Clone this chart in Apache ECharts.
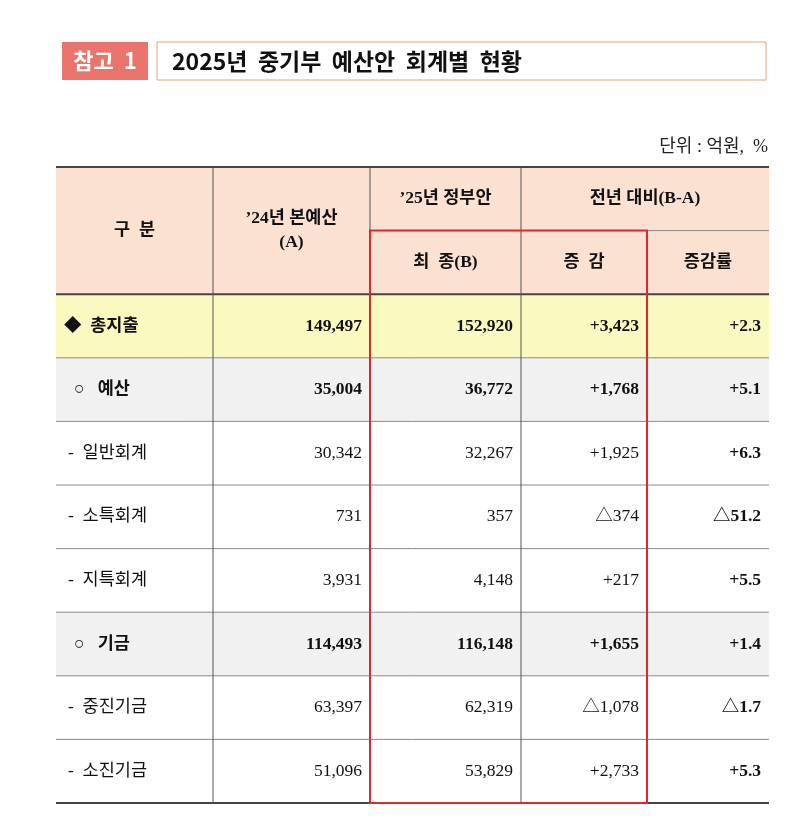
<!DOCTYPE html>
<html>
<head>
<meta charset="utf-8">
<script src="https://cdn.jsdelivr.net/npm/echarts@6/dist/echarts.min.js"></script>
<style>html,body{margin:0;background:#fff;}#main{width:800px;height:831px;}</style>
</head>
<body>
<div id="main"></div>
<script>
var titleTag = '참고  1';
var titleText = '2025년  중기부  예산안  회계별  현황';
var unitText = '단위 : 억원,  %';

var headerCells = [
    // [col, row, colSpan, rowSpan, text]
    [0, 0, 1, 2, '구  분'],
    [1, 0, 1, 2, '\u201924년 본예산\n(A)'],
    [2, 0, 1, 1, '\u201925년 정부안'],
    [3, 0, 2, 1, '전년 대비(B-A)'],
    [2, 1, 1, 1, '최  종(B)'],
    [3, 1, 1, 1, '증  감'],
    [4, 1, 1, 1, '증감률']
];

var rowLabels = ['◆  총지출', '○   예산', '-  일반회계', '-  소특회계', '-  지특회계', '○   기금', '-  중진기금', '-  소진기금'];
var budget24 = ['149,497', '35,004', '30,342', '731', '3,931', '114,493', '63,397', '51,096'];
var budget25 = ['152,920', '36,772', '32,267', '357', '4,148', '116,148', '62,319', '53,829'];
var diffValues = ['+3,423', '+1,768', '+1,925', '△374', '+217', '+1,655', '△1,078', '+2,733'];
var diffRates = ['+2.3', '+5.1', '+6.3', '△51.2', '+5.5', '+1.4', '△1.7', '+5.3'];
var rowKinds = ['total', 'group', 'item', 'item', 'item', 'group', 'item', 'item'];

var colEdges = [0, 157, 314, 465, 591, 713];
var fills = { header: '#fbe1d2', total: '#fafac0', group: '#f1f1f1', item: '#ffffff' };
var serif = '"Liberation Serif", "Noto Sans CJK KR", serif';

var cells = [];
headerCells.forEach(function (h) {
    cells.push({ value: [h[0], h[1], h[2], h[3]], text: h[4], kind: 'header', align: 'center', bold: true });
});
rowLabels.forEach(function (label, i) {
    var r = i + 2, kind = rowKinds[i], strong = kind !== 'item';
    var cols = [label, budget24[i], budget25[i], diffValues[i], diffRates[i]];
    cols.forEach(function (t, c) {
        cells.push({ value: [c, r, 1, 1], text: t, kind: kind,
            align: c === 0 ? 'left' : 'right', bold: strong || c === 4,
            indent: c === 0 ? (kind === 'total' ? 8 : (kind === 'group' ? 18 : 12)) : 0 });
    });
});

// border segments in table units: [x0, y0, x1, y1, style]
var borders = [[0, 0, 713, 0, 'thick'], [0, 2, 713, 2, 'thick'], [0, 10, 713, 10, 'thick'], [314, 1, 713, 1, 'thin']];
for (var r = 3; r < 10; r++) borders.push([0, r, 713, r, 'thin']);
[1, 2, 3].forEach(function (c) { borders.push([colEdges[c], 0, colEdges[c], 10, 'vline']); });
borders.push([colEdges[4], 1, colEdges[4], 10, 'vline']);
var highlight = [[colEdges[2], 1, colEdges[4], 10]];

var myChart = echarts.init(document.getElementById('main'));

function cellRender(params, api) {
    var cell = cells[params.dataIndex];
    var v = cell.value;
    var p0 = api.coord([colEdges[v[0]], v[1]]);
    var p1 = api.coord([colEdges[v[0] + v[2]], v[1] + v[3]]);
    var x = p0[0], y = p0[1], w = p1[0] - p0[0], h = p1[1] - p0[1];
    var tx = cell.align === 'center' ? x + w / 2 : (cell.align === 'left' ? x + cell.indent : x + w - 8);
    return {
        type: 'group',
        children: [
            { type: 'rect', shape: { x: x, y: y, width: w, height: h }, style: { fill: fills[cell.kind] } },
            { type: 'text', style: { x: tx, y: y + h / 2, text: cell.text, align: cell.align, verticalAlign: 'middle',
                font: (cell.bold ? 'bold ' : '') + '17.5px ' + serif, fill: '#111', lineHeight: 24 } }
        ]
    };
}

function borderRender(params, api) {
    var b = borders[params.dataIndex];
    var p0 = api.coord([b[0], b[1]]), p1 = api.coord([b[2], b[3]]);
    var style = b[4] === 'thick' ? { stroke: '#444', lineWidth: 2 } :
        (b[4] === 'vline' ? { stroke: '#555', lineWidth: 1 } : { stroke: '#8a8a8a', lineWidth: 1 });
    return { type: 'line', shape: { x1: p0[0], y1: p0[1], x2: p1[0], y2: p1[1] }, style: style };
}

function highlightRender(params, api) {
    var b = highlight[params.dataIndex];
    var p0 = api.coord([b[0], b[1]]), p1 = api.coord([b[2], b[3]]);
    return { type: 'rect', shape: { x: p0[0], y: p0[1], width: p1[0] - p0[0], height: p1[1] - p0[1] },
        style: { fill: null, stroke: '#e3262b', lineWidth: 2 } };
}

var option = {
    animation: false,
    grid: { left: 56, right: 31, top: 167, bottom: 28 },
    xAxis: { type: 'value', min: 0, max: 713, show: false },
    yAxis: { type: 'value', min: 0, max: 10, inverse: true, show: false },
    graphic: [
        { type: 'rect', shape: { x: 62, y: 42, width: 86, height: 38 }, style: { fill: '#e8746b' } },
        { type: 'text', style: { x: 105, y: 61, text: titleTag, align: 'center', verticalAlign: 'middle',
            font: 'bold 22px "Noto Sans CJK KR"', fill: '#fff' } },
        { type: 'rect', shape: { x: 157, y: 42, width: 609, height: 38 }, style: { fill: '#fff', stroke: '#e6a27c', lineWidth: 1 } },
        { type: 'text', style: { x: 172, y: 61, text: titleText, verticalAlign: 'middle',
            font: 'bold 23px "Noto Sans CJK KR"', fill: '#111' } },
        { type: 'text', style: { x: 768, y: 147, text: unitText, align: 'right', verticalAlign: 'middle',
            font: '18px ' + serif, fill: '#222' } }
    ],
    series: [
        { type: 'custom', renderItem: cellRender, data: cells.map(function (c) { return c.value; }) },
        { type: 'custom', renderItem: borderRender, data: borders.map(function (b) { return [b[0], b[1], b[2], b[3]]; }) },
        { type: 'custom', renderItem: highlightRender, data: highlight, z: 5 }
    ]
};
myChart.setOption(option);
</script>
</body>
</html>
